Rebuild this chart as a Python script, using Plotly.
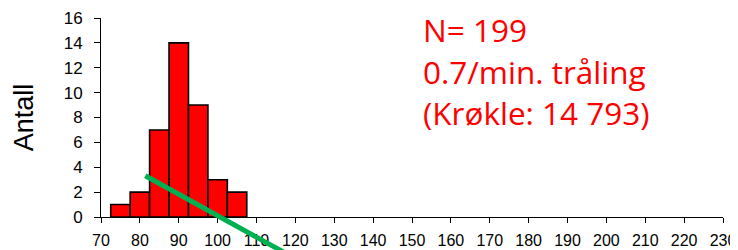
import plotly.graph_objects as go

# Data
bin_centers = [75, 80, 85, 90, 95, 100, 105]
counts = [1, 2, 7, 14, 9, 3, 2]
bin_width = 5
trend_x = [81.4, 118]
trend_y = [3.32, -3.0]
x_ticks = list(range(70, 231, 10))
y_ticks = list(range(0, 17, 2))
annot_lines = ["N= 199", "0.7/min. tråling", "(Krøkle: 14 793)"]

# Geometry (screenshot pixels; page body adds an 8px offset)
OFF = 8
W, H = 738 - OFF, 250 - OFF
plot_left, plot_right, plot_top, y0_px = 101, 723, 18, 217
ml = plot_left - OFF
mt = plot_top - OFF
mr = W - ml - (plot_right - plot_left)
mb = 0
paper_h = H - mt - mb
paper_w = W - ml - mr
y_dom_bottom = (H - (y0_px - OFF) - mb) / paper_h
full_units = 16 / (1 - y_dom_bottom)

def px_to_paper_x(px):
    return (px - OFF - ml) / paper_w

def px_to_paper_y(py):
    return (H - (py - OFF) - mb) / paper_h

fig = go.Figure()
fig.add_trace(go.Bar(
    x=bin_centers, y=counts, width=[bin_width] * len(counts),
    marker=dict(color="#FF0000", line=dict(color="black", width=1.6)),
    xaxis="x", yaxis="y", showlegend=False,
))
fig.add_trace(go.Scatter(
    x=trend_x, y=trend_y, mode="lines",
    line=dict(color="#00B050", width=5),
    xaxis="x", yaxis="y2", showlegend=False,
))

annots = []
line_centers = [29, 71, 113]
for txt, cy in zip(annot_lines, line_centers):
    annots.append(dict(
        x=px_to_paper_x(422), y=px_to_paper_y(cy),
        xref="paper", yref="paper", xanchor="left", yanchor="middle",
        text=txt, showarrow=False, align="left", borderpad=0,
        font=dict(size=31.5, color="#FF0000", family="Open Sans, sans-serif"),
    ))

fig.update_layout(
    width=W, height=H,
    margin=dict(l=ml, r=mr, t=mt, b=mb, pad=0, autoexpand=False),
    plot_bgcolor="rgba(0,0,0,0)", paper_bgcolor="white",
    font=dict(family="Liberation Sans, Arial, sans-serif", color="black"),
    xaxis=dict(
        range=[70, 230], tickvals=x_ticks, ticktext=[str(v) for v in x_ticks],
        ticks="outside", ticklen=5, tickwidth=1, tickcolor="black",
        showline=True, linecolor="black", linewidth=1,
        showgrid=False, zeroline=False, anchor="y", automargin=False,
        tickfont=dict(size=16), ticklabelstandoff=4,
    ),
    yaxis=dict(
        domain=[y_dom_bottom, 1], range=[0, 16], tickvals=y_ticks,
        ticks="outside", ticklen=6, tickwidth=1, tickcolor="black",
        showline=True, linecolor="black", linewidth=1,
        showgrid=False, zeroline=False, anchor="x", automargin=False,
        tickfont=dict(size=17), ticklabelstandoff=8,
        title=dict(text="Antall", font=dict(size=27), standoff=22),
    ),
    yaxis2=dict(
        domain=[0, 1], range=[16 - full_units, 16], visible=False,
        anchor="x", showgrid=False, zeroline=False, automargin=False,
    ),
    annotations=annots,
)

fig.write_html("out.html")
